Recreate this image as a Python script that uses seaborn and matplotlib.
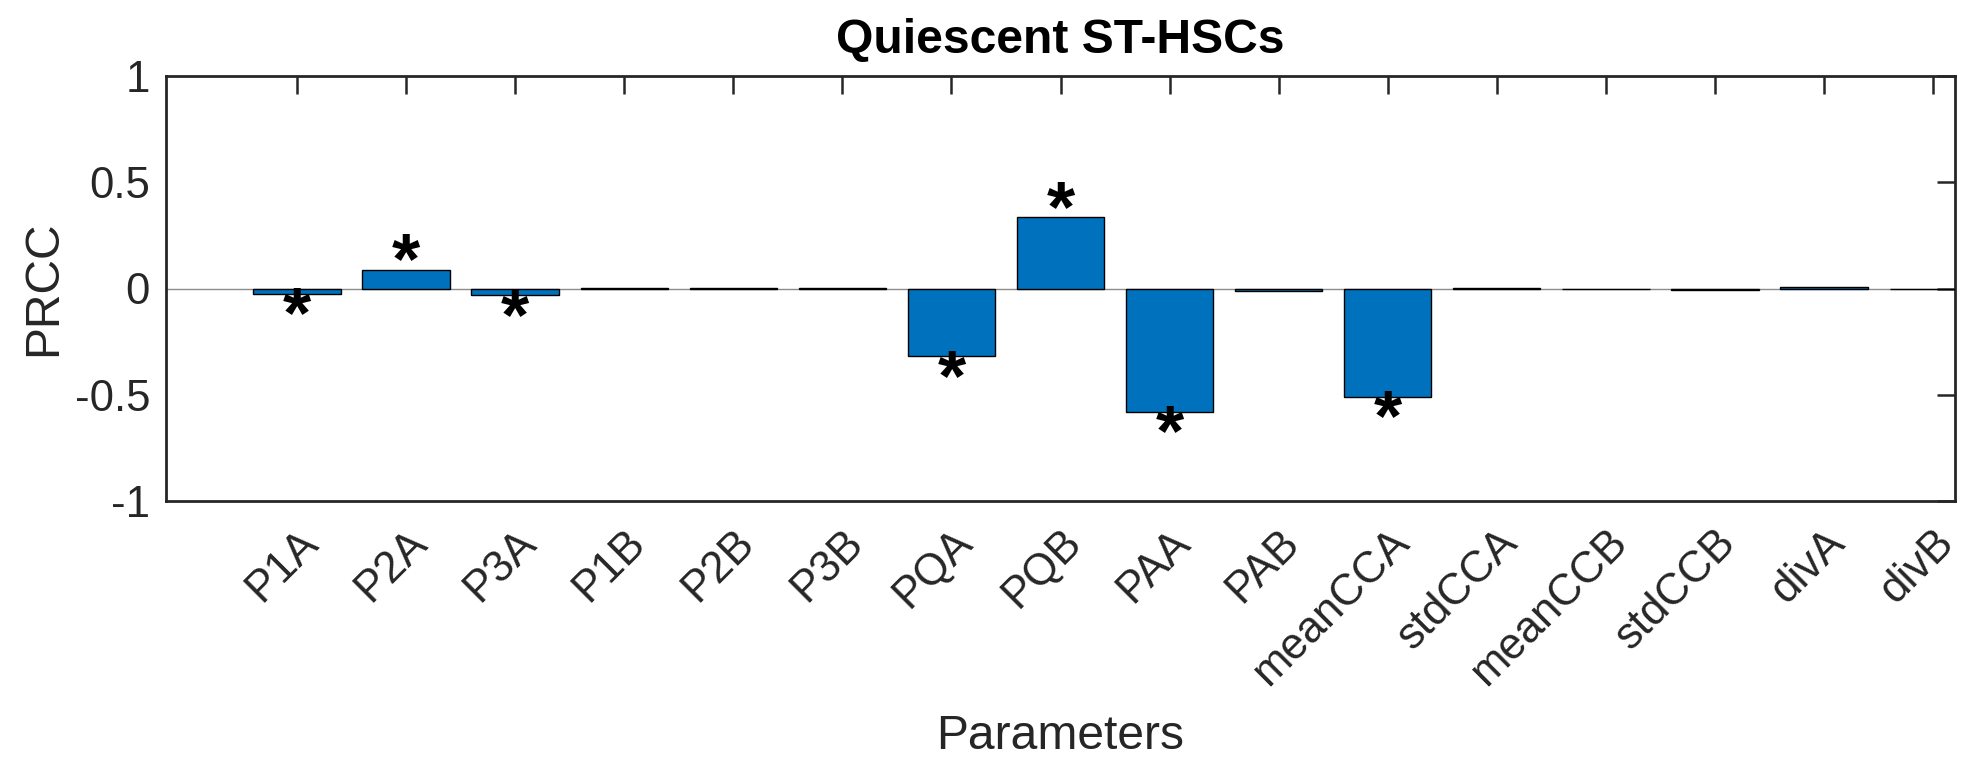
import matplotlib
matplotlib.use("Agg")
import matplotlib.pyplot as plt
import seaborn as sns
import pandas as pd

# ---- data ----
parameters = ["P1A", "P2A", "P3A", "P1B", "P2B", "P3B", "PQA", "PQB",
              "PAA", "PAB", "meanCCA", "stdCCA", "meanCCB", "stdCCB",
              "divA", "divB"]
prcc = [-0.024, 0.089, -0.030, 0.001, 0.003, 0.001, -0.318, 0.335,
        -0.580, -0.011, -0.509, 0.003, -0.004, -0.007, 0.006, -0.001]
significant = [True, True, True, False, False, False, True, True,
               True, False, True, False, False, False, False, False]
yticks = [-1, -0.5, 0, 0.5, 1]
ytick_labels = ["-1", "-0.5", "0", "0.5", "1"]
title = "Quiescent ST-HSCs"
xlabel = "Parameters"
ylabel = "PRCC"

df = pd.DataFrame({"Parameter": parameters, "PRCC": prcc})

sns.set_style("white")
plt.rcParams["font.family"] = ["Liberation Sans", "DejaVu Sans"]

axcol = "#262626"
fig = plt.figure(figsize=(19.67, 7.69), dpi=100)
ax = fig.add_axes([166 / 1967, 1 - 501 / 769, (1955 - 166) / 1967, (501 - 76) / 769])

sns.barplot(data=df, x="Parameter", y="PRCC", color="#0072BD", width=0.8,
            edgecolor="black", linewidth=1.0, saturation=1, ax=ax, zorder=3)

ax.axhline(0, color="#8c8c8c", lw=1.0, zorder=2)

ax.set_xlim(-1.2, len(parameters) + 0.2 - 1)
ax.set_ylim(-1, 1)
ax.set_yticks(yticks)
ax.set_yticklabels(ytick_labels)

for sp in ax.spines.values():
    sp.set_color(axcol)
    sp.set_linewidth(2.0)
    sp.set_visible(True)

ax.tick_params(axis="both", direction="in", length=13, width=1.8, color=axcol,
               labelcolor=axcol, labelsize=31.5, top=True, right=True)
ax.tick_params(axis="y", pad=11.5)
ax.tick_params(axis="x", pad=15)
for lab in ax.get_xticklabels():
    lab.set_rotation(45)
    lab.set_ha("right")
    lab.set_va("top")
    lab.set_rotation_mode("anchor")

# significance stars
for i, (v, s) in enumerate(zip(prcc, significant)):
    if s:
        dy = -10 if v > 0 else -31.5
        ax.annotate("*", xy=(i, v), xytext=(0, dy), textcoords="offset points",
                    ha="center", va="baseline", fontsize=52, fontweight="bold",
                    color="black", zorder=5)

ax.set_title(title, fontsize=34.6, fontweight="bold", color="black", pad=16.5)
ax.set_xlabel(xlabel, fontsize=34.6, color=axcol)
ax.set_ylabel(ylabel, fontsize=34.6, color=axcol)
ax.xaxis.set_label_coords(0.5, (501 - 714) / 425)
ax.yaxis.set_label_coords((66 - 166) / 1789, 0.5)

fig.savefig("out.png", dpi=100)
